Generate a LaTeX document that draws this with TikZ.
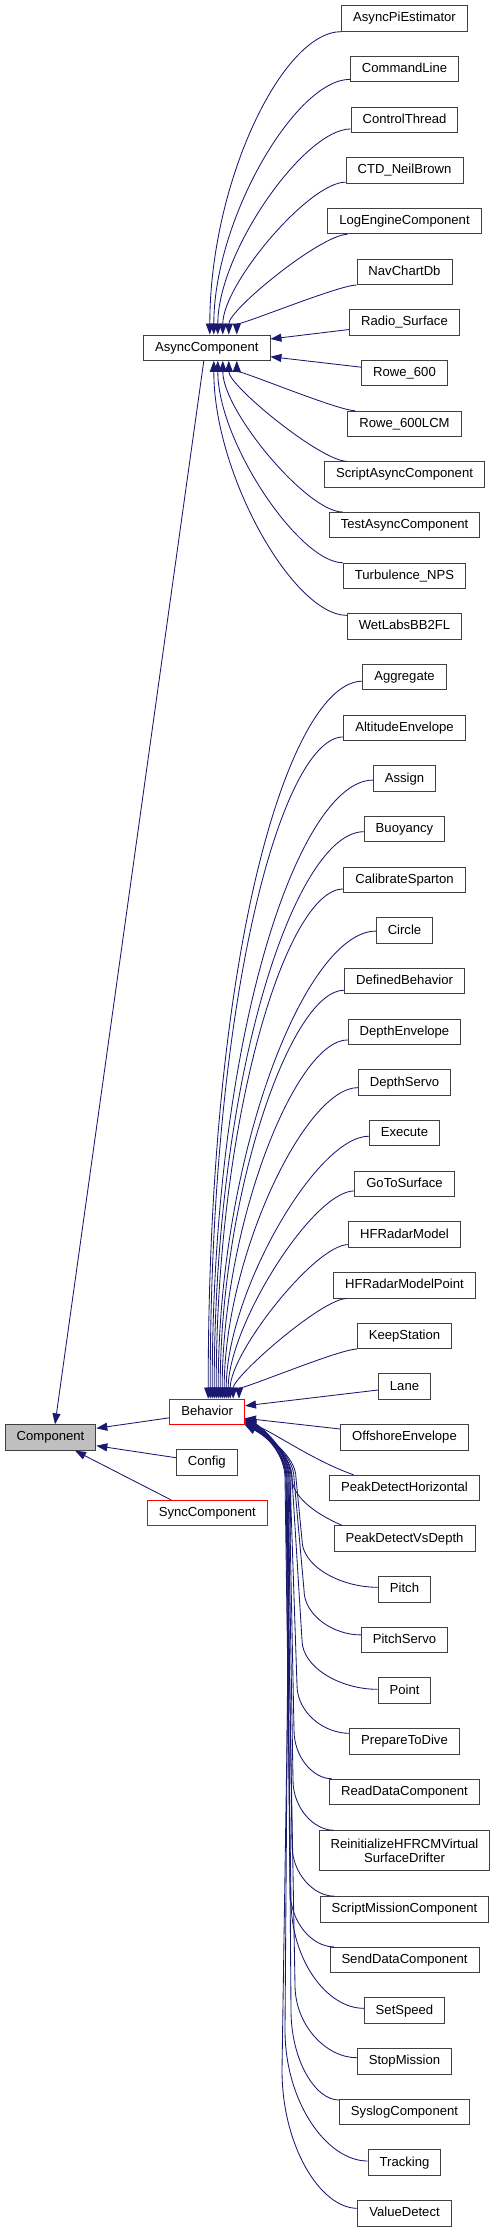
\documentclass[tikz,border=0pt]{standalone}
\usepackage{fontspec}
\setmainfont{Liberation Sans}
\usetikzlibrary{calc,arrows.meta}
\definecolor{mnb}{HTML}{191970}
\tikzset{
  cls/.style={draw=black!75, line width=0.9pt, fill=white, text=black, minimum height=25.4pt,
    inner xsep=11.5pt, inner ysep=0pt, text height=9.6pt, text depth=2.8pt,
    font=\fontsize{13.1pt}{15pt}\selectfont},
  cls2/.style={draw=black!75, line width=0.9pt, fill=white, text=black, minimum height=39.6pt,
    inner xsep=11.5pt, inner ysep=0pt, align=center,
    font=\fontsize{13.1pt}{14pt}\selectfont},
  inh/.style={draw=mnb, line width=0.85pt, -{Triangle[length=11pt,width=8pt]}, fill=none},
}
\newcommand\elb[4]{\draw[inh] (#1) .. controls ($(#1)!#3!(#1 -| #2)$) and ($(#2)!#4!(#2 |- #1)$) .. (#2);}
\newcommand\lowe[6]{\draw[inh] (#1) .. controls +(#5,0) and +(0,#6) .. (#2) -- (#3) .. controls +(0,-22) and +(22,12) .. (#4);}
\begin{document}
\begin{tikzpicture}[x=1pt,y=-1pt]
\useasboundingbox (0,0) rectangle (496,2232);
% left column
\node[cls, fill=black!25] (comp) at (50.5,1437.5) {Component};
\node[cls] (asy) at (206.8,347.7) {AsyncComponent};
\node[cls, draw=red] (beh) at (207.2,1411.8) {Behavior};
\node[cls] (cfg) at (206.8,1462.3) {Config};
\node[cls, draw=red] (sync) at (207.3,1513.2) {SyncComponent};
% right column
\node[cls] (c0) at (404.5,18.5) {AsyncPiEstimator};
\node[cls] (c1) at (404.5,69.2) {CommandLine};
\node[cls] (c2) at (404.5,119.8) {ControlThread};
\node[cls] (c3) at (404.5,170.5) {CTD\_NeilBrown};
\node[cls] (c4) at (404.5,221.2) {LogEngineComponent};
\node[cls] (c5) at (404.5,271.9) {NavChartDb};
\node[cls] (c6) at (404.5,322.5) {Radio\_Surface};
\node[cls] (c7) at (404.5,373.2) {Rowe\_600};
\node[cls] (c8) at (404.5,423.9) {Rowe\_600LCM};
\node[cls] (c9) at (404.5,474.5) {ScriptAsyncComponent};
\node[cls] (c10) at (404.5,525.2) {TestAsyncComponent};
\node[cls] (c11) at (404.5,575.9) {Turbulence\_NPS};
\node[cls] (c12) at (404.5,626.5) {WetLabsBB2FL};
\node[cls] (c13) at (404.5,677.2) {Aggregate};
\node[cls] (c14) at (404.5,727.9) {AltitudeEnvelope};
\node[cls] (c15) at (404.5,778.6) {Assign};
\node[cls] (c16) at (404.5,829.2) {Buoyancy};
\node[cls] (c17) at (404.5,879.9) {CalibrateSparton};
\node[cls] (c18) at (404.5,930.6) {Circle};
\node[cls] (c19) at (404.5,981.2) {DefinedBehavior};
\node[cls] (c20) at (404.5,1031.9) {DepthEnvelope};
\node[cls] (c21) at (404.5,1082.6) {DepthServo};
\node[cls] (c22) at (404.5,1133.2) {Execute};
\node[cls] (c23) at (404.5,1183.9) {GoToSurface};
\node[cls] (c24) at (404.5,1234.6) {HFRadarModel};
\node[cls] (c25) at (404.5,1285.3) {HFRadarModelPoint};
\node[cls] (c26) at (404.5,1335.9) {KeepStation};
\node[cls] (c27) at (404.5,1386.6) {Lane};
\node[cls] (c28) at (404.5,1437.3) {OffshoreEnvelope};
\node[cls] (c29) at (404.5,1487.9) {PeakDetectHorizontal};
\node[cls] (c30) at (404.5,1538.6) {PeakDetectVsDepth};
\node[cls] (c31) at (404.5,1589.3) {Pitch};
\node[cls] (c32) at (404.5,1639.9) {PitchServo};
\node[cls] (c33) at (404.5,1690.6) {Point};
\node[cls] (c34) at (404.5,1741.3) {PrepareToDive};
\node[cls] (c35) at (404.5,1791.9) {ReadDataComponent};
\node[cls2] (c36) at (404.5,1850.5) {ReinitializeHFRCMVirtual\\SurfaceDrifter};
\node[cls] (c37) at (404.5,1909.3) {ScriptMissionComponent};
\node[cls] (c38) at (404.5,1960.0) {SendDataComponent};
\node[cls] (c39) at (404.5,2010.6) {SetSpeed};
\node[cls] (c40) at (404.5,2061.3) {StopMission};
\node[cls] (c41) at (404.5,2112.0) {SyslogComponent};
\node[cls] (c42) at (404.5,2162.6) {Tracking};
\node[cls] (c43) at (404.5,2213.3) {ValueDetect};
% connector end points
\coordinate (s0) at (c0.south west);            \coordinate (e0) at ([xshift=3pt]asy.north);
\coordinate (s1) at ([yshift=3pt]c1.south west); \coordinate (e1) at ([xshift=7pt]asy.north);
\coordinate (s2) at ([yshift=4pt]c2.south west); \coordinate (e2) at ([xshift=11pt]asy.north);
\coordinate (s3) at ([yshift=1.5pt]c3.south west); \coordinate (e3) at ([xshift=16pt]asy.north);
\coordinate (s4) at ([xshift=20pt]c4.south west); \coordinate (e4) at ([xshift=22pt]asy.north);
\coordinate (s5) at (c5.south west);            \coordinate (e5) at ([xshift=30pt]asy.north);
\coordinate (s6) at ([yshift=-7pt]c6.west);     \coordinate (e6) at ([yshift=8.7pt]asy.east);
\coordinate (s7) at ([yshift=6pt]c7.west);      \coordinate (e7) at ([yshift=-9pt]asy.east);
\coordinate (s8) at ([xshift=8pt]c8.north west); \coordinate (e8) at ([xshift=30pt]asy.south);
\coordinate (s9) at ([xshift=23pt]c9.north west); \coordinate (e9) at ([xshift=22pt]asy.south);
\coordinate (s10) at ([xshift=14pt]c10.north west); \coordinate (e10) at ([xshift=16pt]asy.south);
\coordinate (s11) at (c11.north west);          \coordinate (e11) at ([xshift=11pt]asy.south);
\coordinate (s12) at ([yshift=-2pt]c12.north west); \coordinate (e12) at ([xshift=7pt]asy.south);
\coordinate (s13) at ([yshift=-4pt]c13.west);   \coordinate (e13) at ([xshift=1pt]beh.north);
\coordinate (s14) at ([yshift=-9pt]c14.west);   \coordinate (e14) at ([xshift=3pt]beh.north);
\coordinate (s15) at ([yshift=-1.5pt]c15.west); \coordinate (e15) at ([xshift=5pt]beh.north);
\coordinate (s16) at ([yshift=-2.5pt]c16.west); \coordinate (e16) at ([xshift=7pt]beh.north);
\coordinate (s17) at ([yshift=-9pt]c17.west);   \coordinate (e17) at ([xshift=9pt]beh.north);
\coordinate (s18) at ([yshift=-0.5pt]c18.west); \coordinate (e18) at ([xshift=11pt]beh.north);
\coordinate (s19) at ([yshift=-9pt]c19.west);   \coordinate (e19) at ([xshift=13pt]beh.north);
\coordinate (s20) at ([yshift=-8pt]c20.west);   \coordinate (e20) at ([xshift=15pt]beh.north);
\coordinate (s21) at ([yshift=-5pt]c21.west);   \coordinate (e21) at ([xshift=17pt]beh.north);
\coordinate (s22) at ([yshift=-3pt]c22.west);   \coordinate (e22) at ([xshift=19pt]beh.north);
\coordinate (s23) at ([yshift=-7pt]c23.west);   \coordinate (e23) at ([xshift=21pt]beh.north);
\coordinate (s24) at ([yshift=-10pt]c24.west);  \coordinate (e24) at ([xshift=23pt]beh.north);
\coordinate (s25) at ([xshift=13.7pt]c25.south west); \coordinate (e25) at ([xshift=26pt]beh.north);
\coordinate (s26) at (c26.south west);          \coordinate (e26) at ([xshift=-6pt]beh.north east);
\coordinate (s27) at ([yshift=-3.4pt]c27.west); \coordinate (e27) at ([yshift=6pt]beh.east);
\coordinate (s28) at ([yshift=8.3pt]c28.west);  \coordinate (e28) at ([yshift=-6.5pt]beh.east);
\coordinate (s29) at ([xshift=24.3pt]c29.north west); \coordinate (e29) at ([yshift=4pt]beh.south east);
\coordinate (s30) at ([xshift=8.7pt]c30.north west); \coordinate (e30) at (beh.south east);
\coordinate (s31) at ([yshift=2pt]c31.west);    \coordinate (e31) at ([yshift=1pt]beh.south east);
\coordinate (s32) at ([yshift=5pt]c32.west);    \coordinate (e32) at ([yshift=2pt]beh.south east);
\coordinate (s33) at ([yshift=1.3pt]c33.west);  \coordinate (e33) at ([yshift=3pt]beh.south east);
\coordinate (s34) at ([yshift=8pt]c34.west);    \coordinate (e34) at ([yshift=5pt]beh.south east);
\coordinate (s35) at ([xshift=2.7pt]c35.north west); \coordinate (e35) at ([yshift=6pt]beh.south east);
\coordinate (s36) at ([xshift=15pt]c36.north west);  \coordinate (e36) at ([yshift=7pt]beh.south east);
\coordinate (s37) at ([xshift=14.5pt]c37.north west); \coordinate (e37) at ([yshift=0.5pt]beh.south east);
\coordinate (s38) at ([xshift=4.3pt]c38.north west); \coordinate (e38) at ([yshift=1.5pt]beh.south east);
\coordinate (s39) at ([yshift=2.3pt]c39.west);  \coordinate (e39) at ([yshift=2.5pt]beh.south east);
\coordinate (s40) at ([yshift=3.6pt]c40.west);  \coordinate (e40) at ([yshift=3.5pt]beh.south east);
\coordinate (s41) at ([yshift=12pt]c41.west);   \coordinate (e41) at ([yshift=4.5pt]beh.south east);
\coordinate (s42) at ([yshift=1.6pt]c42.west);  \coordinate (e42) at ([yshift=5.5pt]beh.south east);
\coordinate (s43) at ([yshift=5pt]c43.west);    \coordinate (e43) at ([yshift=6.5pt]beh.south east);
% AsyncComponent children
\elb{s0}{e0}{0.45}{0.5}
\elb{s1}{e1}{0.4}{0.45}
\elb{s2}{e2}{0.35}{0.4}
\elb{s3}{e3}{0.3}{0.33}
\elb{s4}{e4}{0.22}{0.25}
\elb{s5}{e5}{0.15}{0.15}
\draw[inh] (s6) -- (e6);
\draw[inh] (s7) -- (e7);
\elb{s8}{e8}{0.15}{0.15}
\elb{s9}{e9}{0.22}{0.25}
\elb{s10}{e10}{0.3}{0.33}
\elb{s11}{e11}{0.35}{0.4}
\elb{s12}{e12}{0.4}{0.45}
% Behavior children above
\elb{s13}{e13}{0.45}{0.65}
\elb{s14}{e14}{0.45}{0.62}
\elb{s15}{e15}{0.45}{0.6}
\elb{s16}{e16}{0.45}{0.58}
\elb{s17}{e17}{0.45}{0.55}
\elb{s18}{e18}{0.44}{0.53}
\elb{s19}{e19}{0.43}{0.5}
\elb{s20}{e20}{0.42}{0.48}
\elb{s21}{e21}{0.4}{0.45}
\elb{s22}{e22}{0.37}{0.4}
\elb{s23}{e23}{0.33}{0.35}
\elb{s24}{e24}{0.28}{0.3}
\elb{s25}{e25}{0.22}{0.22}
\elb{s26}{e26}{0.15}{0.15}
\draw[inh] (s27) -- (e27);
\draw[inh] (s28) -- (e28);
% Behavior children below
\draw[inh] (s29) .. controls +(-40,-14) and +(30,12) .. (e29);
\draw[inh] (s30) .. controls +(-28,-12) and +(0,18) .. (292,1478) .. controls +(0,-22) and +(22,12) .. (e30);
\lowe{s31}{302,1540}{296,1478}{e31}{-38}{26}
\lowe{s32}{304,1590}{294,1478}{e32}{-28}{25}
\lowe{s33}{302,1640}{292,1478}{e33}{-38}{27}
\lowe{s34}{297,1685}{290,1478}{e34}{-26}{27}
\lowe{s35}{294,1730}{289,1478}{e35}{-19}{27}
\lowe{s36}{293,1780}{288,1478}{e36}{-20}{28}
\lowe{s37}{292,1845}{287,1478}{e37}{-21}{28}
\lowe{s38}{290,1890}{286,1478}{e38}{-22}{32}
\lowe{s39}{291,1900}{285,1478}{e39}{-37}{60}
\lowe{s40}{295,1985}{286,1478}{e40}{-31}{40}
\lowe{s41}{291,2010}{287,1478}{e41}{-24}{50}
\lowe{s42}{285,2030}{289,1478}{e42}{-41}{72}
\lowe{s43}{282,2070}{291,1478}{e43}{-37}{76}
% Component parents
\draw[inh] ([xshift=-3pt]asy.south) -- ([xshift=4.5pt]comp.north);
\draw[inh] ([yshift=-6pt]beh.west) -- ([yshift=9.2pt]comp.east);
\draw[inh] ([yshift=4.6pt]cfg.west) -- ([yshift=-8.2pt]comp.east);
\draw[inh] ([xshift=24.4pt]sync.north west) -- ([xshift=24.5pt]comp.south);
\end{tikzpicture}
\end{document}
